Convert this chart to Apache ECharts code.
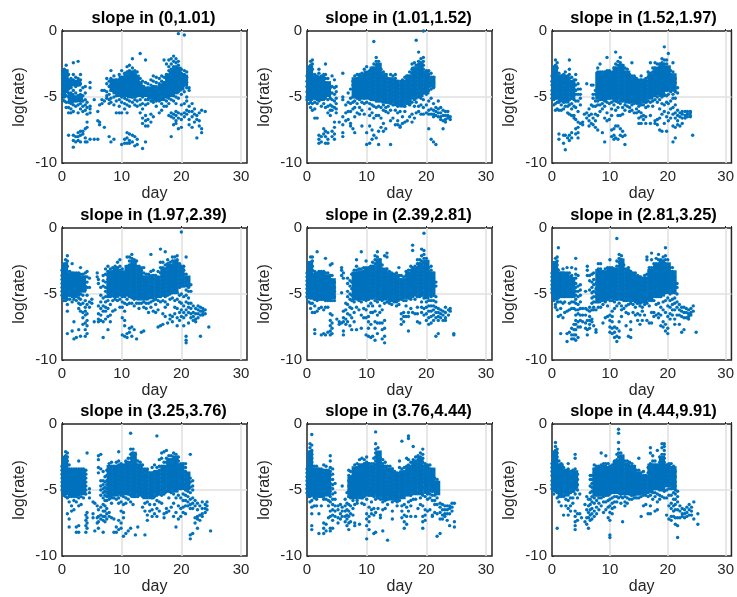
<!DOCTYPE html>
<html>
<head>
<meta charset="utf-8">
<title>slope panels</title>
<script src="https://cdn.jsdelivr.net/npm/echarts@6/dist/echarts.min.js"></script>
<style>
  html, body { margin: 0; background: #fff; }
  #chart { width: 737px; height: 597px; }
</style>
</head>
<body>
<div id="chart"></div>
<script>
const titles = ['slope in (0,1.01)', 'slope in (1.01,1.52)', 'slope in (1.52,1.97)',
  'slope in (1.97,2.39)', 'slope in (2.39,2.81)', 'slope in (2.81,3.25)',
  'slope in (3.25,3.76)', 'slope in (3.76,4.44)', 'slope in (4.44,9.91)']
const xTicks = [0, 10, 20, 30]

const panel1 = [
  [0.1,[-3,-3.3,-3.6,-4,-4.4,-4.8,-5.2]],[0.4,[-2.9,-3.2,-3.5,-3.9,-4.2,-4.6,-5,-5.3]],[0.7,[-2.6,-3,-3.4,-3.8,-4.2,-4.5,-4.9,-5.4,-5.8]],
  [1.1,[-3.3,-3.7,-4,-4.4,-4.7,-5,-5.4,-5.8,-6.2,-7.9]],[1.5,[-3.6,-3.9,-4.3,-4.7,-5.1,-5.5,-5.9,-6.2]],[1.9,[-2.4,-3.3,-3.7,-4,-4.5,-4.9,-5.2,-5.6,-6.1,-7.9,-8.3,-8.8]],
  [2.3,[-3.5,-3.9,-4.2,-4.7,-5,-5.3,-5.7,-8,-8.4]],[2.7,[-2.3,-3.6,-3.8,-4.1,-4.9,-5.2,-5.6,-6.2,-7.7,-8,-8.3]],[3.1,[-3.3,-3.7,-4,-4.5,-4.8,-5.2,-5.5,-5.9,-7.6,-7.9,-8.4]],
  [3.5,[-4.3,-4.9,-5.3,-5.7,-6.1,-7.6,-7.8]],[3.9,[-4.2,-4.7,-5.2,-5.6,-6,-7.4,-8.1,-8.4]],[4.2,[-5.4,-5.8,-6.3,-6.9,-7.3,-8.4]],[4.7,[-3.9,-4.3,-5.7,-5.9,-6.2,-8.2]],
  [5.4,[-5.2,-8.2]],[6,[-6.1,-6.8,-8.2]],[6.3,[-5.6,-6.9,-7.1]],[6.7,[-4.5,-5.2,-5.5]],[7.1,[-4.5,-5.3,-7.3]],
  [7.5,[-3.6,-4,-4.6,-4.9,-5.1]],[7.9,[-3.8,-4.2,-4.8,-5.2,-5.5,-8]],[8.2,[-3,-3.6,-4.1,-4.5,-5.1,-5.4,-8.4]],[8.7,[-3.4,-3.8,-4.2,-4.6,-5,-5.6,-8.2]],[9.1,[-3.7,-4,-4.4,-4.9,-5.3,-6.2]],
  [9.6,[-3.3,-3.7,-4.1,-4.5,-4.8,-5.2,-5.7,-6.2]],[10,[-3,-3.5,-3.9,-4.3,-4.6,-5,-5.4,-6.2,-8.6]],[10.5,[-3.2,-3.6,-4,-4.3,-4.7,-5.1,-5.5,-5.9,-8.2,-8.5]],
  [10.9,[-2.7,-3.1,-3.4,-3.8,-4.1,-4.4,-4.8,-5.2,-5.6,-6.2,-7.7,-8.1,-8.5]],[11.3,[-2.6,-3,-3.3,-3.6,-3.9,-4.2,-4.6,-4.9,-5.3,-5.7,-7.8,-8.3,-8.5]],[11.8,[-2.1,-2.8,-3.1,-3.4,-3.7,-4,-4.3,-4.6,-5,-5.4,-7.9,-8.4]],
  [12.2,[-3,-3.3,-3.6,-3.9,-4.2,-4.5,-4.8,-5.2,-5.6,-8,-8.7]],[12.6,[-3.1,-3.5,-3.8,-4.1,-4.5,-4.9,-5.3,-5.7,-8.2,-8.6]],[13.1,[-1.7,-3.6,-4,-4.4,-4.8,-5.2,-5.6,-6.2]],
  [13.5,[-3.8,-4.2,-4.6,-5,-5.5,-5.9,-6.6,-7,-8.9]],[14,[-2.2,-3.9,-4.4,-4.8,-5.2,-5.6,-6.4,-6.8,-7.2,-8.4]],[14.4,[-4,-4.4,-4.8,-5.2,-5.5,-6.7,-7.2]],[14.9,[-3.7,-4.1,-4.5,-4.9,-5.3,-6.3,-6.9]],
  [15.3,[-3.4,-3.8,-4.2,-4.6,-5,-5.4,-6.5]],[15.8,[-3.5,-3.9,-4.4,-4.7,-5,-5.3,-5.7]],[16.3,[-3.6,-4,-4.3,-4.6,-5,-5.3,-6.2]],[16.7,[-3.4,-3.8,-4.1,-4.5,-4.8,-5.2,-5.5,-6]],
  [17.1,[-2.2,-3.5,-3.9,-4.2,-4.6,-4.9,-5.2,-5.7]],[17.5,[-2.5,-3.3,-3.6,-4,-4.3,-4.7,-5,-5.3,-5.7]],[17.9,[-2.2,-2.7,-3,-3.4,-3.7,-4.1,-4.4,-4.8,-5.1,-5.5,-6.4]],
  [18.3,[-2.1,-2.5,-2.9,-3.2,-3.5,-3.8,-4.1,-4.5,-4.8,-5.2,-6.2,-6.5,-8]],[18.7,[-1.9,-2.3,-2.7,-3,-3.3,-3.6,-3.9,-4.2,-4.5,-4.9,-5.3,-6.3,-6.6,-7.1]],
  [19.1,[-2.1,-2.4,-2.7,-3,-3.3,-3.6,-3.9,-4.2,-4.6,-5,-5.5,-6.1,-6.4,-6.8,-7]],[19.5,[-0.2,-2.3,-2.6,-2.9,-3.2,-3.5,-3.8,-4.2,-4.6,-5.1,-6.2,-6.6,-7.4]],[20,[-2.9,-3.2,-3.6,-4,-4.4,-4.8,-5.6,-6.3,-6.7,-7.3]],
  [20.5,[-0.3,-3,-3.3,-3.7,-4.1,-4.6,-5.5,-6.2,-6.5]],[20.9,[-3.1,-3.5,-3.9,-4.3,-5,-5.3,-6,-6.3]],[21.3,[-4.3,-4.5,-5.7,-6.1,-6.7,-7.1]],[21.8,[-5.5,-6.1,-6.5,-7.3]],[22.2,[-5.9,-6.3,-6.9]],[22.6,[-6.4,-6.7,-8.1]],[23,[-6.2,-6.8,-7.2]],[23.4,[-6,-7.4,-7.7]],[24,[-6.1]]
]
const panel2 = [
  [0,[-3.4,-3.8,-4.2,-4.6,-5,-5.2]],[0.3,[-2.8,-3.2,-3.5,-3.8,-4.1,-4.4,-4.8,-5.1,-5.5]],[0.6,[-2.3,-2.6,-2.9,-3.2,-3.5,-3.8,-4.1,-4.4,-4.7,-5,-5.4,-5.8]],[0.9,[-2.2,-2.5,-2.9,-3.3,-3.6,-3.9,-4.2,-4.5,-4.8,-5.1,-5.5,-6]],
  [1.3,[-3.3,-3.6,-3.9,-4.2,-4.5,-4.8,-5.1,-5.4,-5.9,-6.6]],[1.7,[-3.4,-3.7,-4,-4.3,-4.6,-4.9,-5.2,-5.5,-6.6]],[2,[-2.9,-3.2,-3.5,-3.8,-4.1,-4.4,-4.7,-5,-5.3,-7.9,-8.2,-8.5]],[2.4,[-3.4,-3.7,-4,-4.3,-4.6,-4.9,-5.2,-5.7,-8,-8.4]],
  [2.8,[-3.3,-3.6,-3.9,-4.2,-4.5,-4.8,-5.1,-5.5,-7.4,-7.8]],[3.1,[-2.5,-3.3,-3.6,-3.9,-4.2,-4.5,-4.8,-5.1,-5.8,-7.6,-8,-8.5]],[3.5,[-3.6,-4,-4.4,-4.8,-5.2,-5.7,-6.2,-7.7,-8.2,-8.5]],[3.9,[-4.3,-4.7,-5.1,-5.6,-6,-6.4]],
  [4.2,[-3.4,-4.2,-4.7,-5.2,-5.7,-6,-7.6,-8]],[4.6,[-3.7,-4.3,-4.8,-5.3,-5.8,-6.9,-7.3,-7.8,-8.2]],[4.9,[-4.2,-4.6,-5.1,-5.5,-5.9,-6.2]],[5.4,[-6.9]],[6,[-3.2,-5.2,-5,-6.5,-7.1,-7.7,-8]],[6.5,[-5.6,-6.2,-6.8]],
  [6.9,[-4.7,-5.4,-6.1,-6.7]],[7.3,[-4.4,-5.1,-5.5,-6.1,-7,-7.2]],[7.7,[-3.8,-4.1,-5,-5.4,-5.9,-7.4]],[8,[-3.4,-3.7,-4,-4.3,-4.7,-5,-5.3,-5.8,-6.5,-7.7]],[8.4,[-3.3,-3.6,-3.9,-4.2,-4.5,-4.8,-5.1,-5.5,-6.2]],
  [8.8,[-3.3,-3.6,-3.9,-4.2,-4.5,-4.8,-5.2,-5.8,-6.3]],[9.2,[-3.2,-3.5,-3.8,-4.1,-4.4,-4.7,-5,-5.4,-6,-7.2]],[9.6,[-2.9,-3.3,-3.6,-3.9,-4.2,-4.5,-4.8,-5.1,-5.5,-6.3]],[10,[-2.7,-3.2,-3.5,-3.8,-4.1,-4.4,-4.7,-5,-5.4,-7.7,-8.6]],
  [10.5,[-3,-3.3,-3.6,-3.9,-4.2,-4.5,-4.8,-5.1,-5.5,-5.9,-6.4,-7.2,-8.5]],[10.9,[-2.8,-3.1,-3.4,-3.7,-4,-4.3,-4.6,-4.9,-5.2,-5.6,-6.2,-7.5,-8.2]],[11.2,[-0.8,-2.5,-2.8,-3.1,-3.4,-3.7,-4,-4.3,-4.6,-4.9,-5.2,-5.7,-6.6,-7.9]],
  [11.6,[-2,-2.3,-2.6,-2.9,-3.2,-3.5,-3.8,-4.1,-4.4,-4.7,-5,-5.3,-5.8,-6.4,-8.1]],[12,[-2.3,-2.6,-2.9,-3.2,-3.5,-3.8,-4.1,-4.4,-4.7,-5,-5.3,-5.7,-6.4,-7.6,-8.6]],[12.4,[-2.9,-3.2,-3.5,-3.8,-4.1,-4.4,-4.7,-5,-5.3,-5.8,-6.6,-7.3]],
  [12.8,[-3.1,-3.4,-3.7,-4,-4.3,-4.6,-4.9,-5.2,-5.6,-6,-7,-7.6]],[13.2,[-3.3,-3.6,-3.9,-4.2,-4.5,-4.8,-5.1,-5.4,-5.8,-6.1,-7.4]],[13.6,[-3.6,-3.9,-4.2,-4.5,-4.8,-5.1,-5.4,-5.7,-6.2]],[14,[-3.3,-3.7,-4,-4.3,-4.6,-4.9,-5.2,-5.5,-6,-6.8,-8.6]],
  [14.4,[-3.4,-3.7,-4,-4.3,-4.6,-4.9,-5.2,-5.6,-6.6]],[14.8,[-3.3,-3.6,-3.9,-4.2,-4.5,-4.8,-5.1,-5.5,-6,-7.1]],[15.2,[-3.8,-4.1,-4.4,-4.7,-5,-5.3,-5.7,-6.2,-6.8,-7.1]],[15.6,[-4.1,-4.4,-4.7,-5,-5.3,-5.6,-6.1,-7.2,-7.3]],
  [16,[-3.7,-4,-4.3,-4.6,-4.9,-5.2,-5.6,-6.5,-7]],[16.4,[-3.5,-3.8,-4.1,-4.4,-4.7,-5,-5.3,-5.7,-6.1,-6.9]],[16.8,[-3.4,-3.7,-4,-4.3,-4.6,-4.9,-5.2,-5.5,-6.8]],[17.2,[-3.1,-3.4,-3.7,-4,-4.3,-4.6,-4.9,-5.2,-5.6,-6.5]],
  [17.6,[-2.5,-2.9,-3.2,-3.5,-3.8,-4.1,-4.4,-4.7,-5,-5.4,-6.3,-6.9]],[18,[-2.4,-2.8,-3.1,-3.4,-3.7,-4,-4.3,-4.6,-4.9,-5.2,-5.7,-6.6]],[18.3,[-0.7,-2.6,-2.9,-3.2,-3.5,-3.8,-4.1,-4.4,-4.7,-5,-5.4,-6.2]],[18.7,[-1.6,-2.3,-2.6,-2.9,-3.2,-3.5,-3.8,-4.1,-4.4,-4.7,-5,-5.7,-6.1]],
  [19.1,[-2.1,-2.4,-2.7,-3,-3.3,-3.6,-3.9,-4.2,-4.5,-4.8,-5.1,-5.6,-6.3]],[19.5,[0,-2,-2.3,-2.6,-2.9,-3.2,-3.5,-3.8,-4.1,-4.4,-4.7,-5.2,-5.8,-6.3]],[20,[-3,-3.3,-3.6,-3.9,-4.2,-4.5,-4.8,-5.6,-6.2]],[20.4,[-3,-3.3,-3.6,-3.9,-4.2,-4.5,-5.3,-6,-6.3,-7.4]],
  [20.8,[-3.2,-3.5,-3.8,-4.1,-4.4,-5.1,-5.9,-6.3,-8.2]],[21.2,[-3.5,-3.9,-4.3,-5.5,-6,-6.3,-6.5,-8.4]],[21.6,[-5.8,-6.1,-6.4,-8.6]],[22,[-5.3,-5.9,-6.2,-6.5]],[22.4,[-5.8,-6.2,-6.5,-6.7]],[22.8,[-6,-6.4,-6.8,-7.4]],[23.2,[-6.1,-6.4,-6.7,-6.9]],[23.6,[-6.1,-6.4,-6.6]],[24,[-6.5,-6.7]]
]
const panel3 = [
  [0,[-3.4,-3.8,-4.1,-4.5,-4.8,-5.1]],[0.3,[-3,-3.4,-3.7,-4,-4.3,-4.6,-4.9,-5.2,-5.6]],[0.6,[-2.2,-2.6,-3,-3.3,-3.6,-3.9,-4.2,-4.5,-4.8,-5.1,-5.5,-6]],[0.9,[-2.4,-2.8,-3.2,-3.5,-3.8,-4.1,-4.4,-4.7,-5,-5.4,-5.9]],
  [1.2,[-3.2,-3.5,-3.8,-4.1,-4.4,-4.7,-5,-5.4,-6,-7.8,-8.2]],[1.6,[-3.4,-3.7,-4,-4.3,-4.6,-4.9,-5.2,-5.6,-6]],[2,[-3.3,-3.6,-3.9,-4.2,-4.5,-4.8,-5.1,-5.4,-5.9,-7.9,-8.5]],[2.3,[-3.1,-3.4,-3.7,-4,-4.3,-4.6,-4.9,-5.2,-5.7,-7.9,-9]],
  [2.7,[-3.4,-3.7,-4,-4.3,-4.6,-4.9,-5.3,-5.7,-6.2,-8.1]],[3,[-2.2,-2.9,-3.3,-3.6,-3.9,-4.2,-4.5,-4.8,-5.2,-5.6,-6.3,-7.9,-8.3]],[3.4,[-3.5,-3.9,-4.3,-4.7,-5.1,-5.5,-5.9,-6.4,-7.7,-8.1]],[3.8,[-3.7,-4,-4.4,-4.8,-5.2,-5.7,-6.4,-6.6]],
  [4.1,[-3.3,-3.7,-4.1,-4.5,-4.8,-5.3,-5.8,-6.7,-7.4,-7.8]],[4.5,[-4,-4.4,-4.8,-5.3,-6.1,-6.9,-7.3,-7.7,-8.1]],[4.9,[-4.4,-4.8,-5.1,-5.6,-7]],[5.3,[-6.9,-7.1]],[5.6,[-6.3]],[6,[-4,-6.2,-6.6]],[6.4,[-5.9,-6.4,-6.8,-7.2]],[6.8,[-4.1,-5.6,-6.3,-7]],
  [7.1,[-4.1,-4.8,-5.1,-5.7,-6.6,-7.1]],[7.5,[-4.5,-4.8,-5.3,-5.7,-6.3,-6.8,-7.3]],[7.9,[-2.8,-3.1,-3.5,-3.9,-4.3,-4.6,-5,-5.3,-5.6,-6.4,-7.5]],[8.3,[-2.5,-3.1,-3.4,-3.7,-4,-4.3,-4.6,-4.9,-5.2,-5.6,-6.1]],[8.7,[-3.1,-3.4,-3.7,-4,-4.3,-4.6,-4.9,-5.2,-5.5,-5.9,-7.7]],
  [9.1,[-3.1,-3.4,-3.7,-4,-4.3,-4.6,-4.9,-5.3,-5.7,-6.6,-8.4]],[9.5,[-2,-3,-3.3,-3.6,-3.9,-4.2,-4.5,-4.8,-5.1,-5.4,-6.2,-6.8]],[9.9,[-3,-3.3,-3.6,-3.9,-4.2,-4.5,-4.8,-5.1,-5.5,-6.7]],[10.3,[-3.2,-3.5,-3.8,-4.1,-4.4,-4.7,-5,-5.4,-5.9,-6.4,-7.5,-8]],
  [10.7,[-2.8,-3.1,-3.4,-3.7,-4,-4.3,-4.6,-4.9,-5.2,-5.6,-7.4,-7.9,-8.2]],[11,[-1.6,-2.5,-2.8,-3.1,-3.4,-3.7,-4,-4.3,-4.6,-4.9,-5.3,-6,-7.2,-8.1]],[11.4,[-2.3,-2.6,-2.9,-3.2,-3.5,-3.8,-4.1,-4.4,-4.7,-5,-5.4,-5.8,-6.4,-7.2,-8.2]],
  [11.8,[-2,-2.4,-2.7,-3,-3.3,-3.6,-3.9,-4.2,-4.5,-4.8,-5.1,-5.5,-6.4,-7.4,-7.9]],[12.2,[-2.6,-2.9,-3.2,-3.5,-3.8,-4.1,-4.4,-4.7,-5,-5.3,-5.8,-6.3,-7.6,-8]],[12.6,[-2.8,-3.1,-3.4,-3.7,-4,-4.3,-4.6,-4.9,-5.2,-5.6,-6,-7.9,-8.6]],
  [13,[-2.9,-3.2,-3.5,-3.8,-4.1,-4.4,-4.7,-5,-5.3,-5.7]],[13.4,[-3.3,-3.6,-3.9,-4.2,-4.5,-4.8,-5.1,-5.4,-5.8,-6.1]],[13.8,[-2.4,-3.4,-3.7,-4,-4.3,-4.6,-4.9,-5.2,-5.6,-6]],[14.2,[-3.4,-3.7,-4,-4.3,-4.6,-4.9,-5.2,-5.5,-6.2]],
  [14.6,[-3.6,-3.9,-4.2,-4.5,-4.8,-5.1,-5.4,-5.9,-6.2]],[15,[-3.8,-4.1,-4.4,-4.7,-5,-5.3,-5.7,-6.1,-6.6,-7]],[15.4,[-3.4,-3.7,-4,-4.3,-4.6,-4.9,-5.2,-5.6,-6.2,-6.5,-7]],[15.8,[-3.7,-4,-4.3,-4.6,-4.9,-5.2,-5.6,-6.4,-6.7]],
  [16.2,[-3.6,-3.9,-4.2,-4.5,-4.8,-5.1,-5.4,-5.8,-6.5,-7]],[16.6,[-3.1,-3.5,-3.8,-4.1,-4.4,-4.7,-5,-5.3,-5.7]],[17,[-2.4,-3.2,-3.5,-3.8,-4.1,-4.4,-4.7,-5,-5.4,-6.4,-7]],[17.4,[-2.8,-3.1,-3.4,-3.7,-4,-4.3,-4.6,-4.9,-5.3,-5.7]],
  [17.8,[-2.4,-2.8,-3.1,-3.4,-3.7,-4,-4.3,-4.6,-4.9,-5.2,-6.8,-7]],[18.2,[-2.5,-2.9,-3.2,-3.5,-3.8,-4.1,-4.4,-4.7,-5,-5.4,-6.7,-7.1]],[18.6,[-2.5,-2.7,-3,-3.3,-3.6,-3.9,-4.2,-4.5,-4.8,-5.2,-5.9,-6.6,-7.5]],[19,[-2.1,-2.4,-2.8,-3.1,-3.4,-3.7,-4,-4.3,-4.6,-5,-5.5,-6.3,-7.6]],
  [19.4,[-1.2,-2.2,-2.5,-2.8,-3.1,-3.4,-3.7,-4,-4.4,-4.8,-5.6,-6.1,-7]],[19.8,[-2.2,-2.5,-2.9,-3.2,-3.5,-3.8,-4.1,-4.5,-4.9,-5.4,-6.5,-7.6]],[20.1,[-1.7,-3.2,-3.5,-3.8,-4.1,-4.4,-4.8,-5.5,-6.2,-6.8]],[20.5,[-3,-3.3,-3.6,-3.9,-4.2,-4.6,-5.3,-5.9,-6.6]],
  [20.9,[-2.4,-3.1,-3.4,-3.7,-4,-4.4,-4.8,-5.1,-5.8,-6.3,-7.2,-8.4]],[21.3,[-3.6,-3.9,-4.3,-4.6,-5.1,-5.6,-6.2,-6.6,-7.3,-8.1]],[21.7,[-4.3,-4.7,-6,-6.4,-6.8,-7.1]],[22.1,[-6.2,-6.5,-7.2]],[22.5,[-6.1,-6.3,-6.6,-7]],[23,[-6.1,-6.4,-6.6]],[23.4,[-6.1,-6.3,-6.5]],[23.9,[-6.1,-6.2,-6.4,-6.5]],[24.3,[-7.9]]
]
const panel4 = [
  [0,[-3.2,-3.6,-3.9,-4.2,-4.5,-4.8,-5.1]],[0.3,[-2.8,-3.1,-3.4,-3.7,-4,-4.3,-4.6,-4.9,-5.2,-5.5]],[0.6,[-2.4,-2.7,-3,-3.3,-3.6,-3.9,-4.2,-4.5,-4.8,-5.1,-5.5]],[0.9,[-2.1,-2.5,-2.9,-3.3,-3.6,-3.9,-4.2,-4.5,-4.8,-5.1,-5.4,-5.8,-6.3,-8]],
  [1.3,[-3.3,-3.6,-3.9,-4.2,-4.5,-4.8,-5.1,-5.4]],[1.7,[-2.7,-3.4,-3.7,-4,-4.3,-4.6,-4.9,-5.2,-5.6,-7.8]],[2,[-3.4,-3.7,-4,-4.3,-4.6,-4.9,-5.2,-5.4,-7.1,-8.4]],[2.4,[-3.4,-3.7,-4,-4.3,-4.6,-4.9,-5.2,-5.5,-8.3]],
  [2.8,[-3.4,-3.7,-4,-4.3,-4.6,-4.9,-5.3,-5.7,-6.1,-7.7]],[3.1,[-3,-3.5,-3.8,-4.1,-4.4,-4.7,-5,-5.4,-5.8,-6.3,-8.2]],[3.5,[-3.5,-3.9,-4.3,-4.7,-5.1,-5.7,-6.4,-6.8,-7.3]],[3.9,[-3.4,-3.7,-4.1,-4.4,-4.7,-5.5,-6,-6.3,-6.6,-7.2,-7.7,-8.2]],[4.2,[-3.3,-3.7,-4.1,-4.5,-5.1,-5.8,-6.5,-7,-7.4,-8]],
  [4.6,[-3.8,-4.5,-5.6,-6]],[5,[-5.4,-5.7]],[5.4,[-7.1]],[5.9,[-3.4,-3.7]],[6.1,[-3.9,-4.2,-5.9,-6.5,-6.9,-7.1]],[6.5,[-4.5,-5.1,-5.6,-6.1,-6.6,-7]],[6.9,[-3.6,-4,-4.4,-5.3,-5.9,-6.3,-7.1,-8.3]],
  [7.3,[-3.1,-3.5,-4.1,-4.5,-4.8,-5.2,-5.6,-6,-6.3,-6.9]],[7.7,[-2.9,-3.3,-3.6,-3.9,-4.3,-4.6,-4.9,-5.2,-5.5,-6.1,-6.7,-7.7]],[8.1,[-3.1,-3.4,-3.7,-4,-4.3,-4.6,-4.9,-5.2,-5.8,-6.6,-7.1]],[8.5,[-3,-3.3,-3.6,-3.9,-4.2,-4.5,-4.8,-5.1,-5.5,-6.3]],
  [8.9,[-2.9,-3.2,-3.5,-3.8,-4.1,-4.4,-4.7,-5,-5.4,-6.2]],[9.3,[-2.6,-3,-3.3,-3.6,-3.9,-4.2,-4.5,-4.8,-5.1,-5.5]],[9.7,[-2.4,-2.9,-3.2,-3.5,-3.8,-4.1,-4.4,-4.7,-5,-5.4,-6]],[10.1,[-3.1,-3.4,-3.7,-4,-4.3,-4.6,-4.9,-5.2,-5.6,-6,-6.8,-8.1]],
  [10.5,[-3.4,-3.7,-4,-4.3,-4.6,-4.9,-5.2,-5.7,-6.3,-7,-7.4,-8.2]],[10.9,[-2.2,-2.9,-3.2,-3.5,-3.8,-4.1,-4.4,-4.7,-5,-5.4,-5.8,-8,-8.3]],[11.3,[-2.2,-2.5,-2.8,-3.1,-3.4,-3.7,-4,-4.3,-4.6,-4.9,-5.2,-5.7,-7.6,-7.9]],[11.7,[-2,-2.3,-2.7,-3,-3.3,-3.6,-3.9,-4.2,-4.5,-4.8,-5.2,-5.7,-7.5,-8.2]],
  [12.1,[-2.4,-2.7,-3,-3.3,-3.6,-3.9,-4.2,-4.5,-4.8,-5.1,-5.4,-5.9,-7.7]],[12.5,[-2.5,-2.9,-3.2,-3.5,-3.8,-4.1,-4.4,-4.7,-5,-5.3,-5.7,-8.4]],[12.9,[-2.9,-3.2,-3.5,-3.8,-4.1,-4.4,-4.7,-5,-5.3,-5.7,-6.1]],[13.3,[-3.2,-3.5,-3.8,-4.1,-4.4,-4.7,-5,-5.3,-5.7,-7.9]],
  [13.7,[-3,-3.4,-3.7,-4,-4.3,-4.6,-4.9,-5.2,-5.6,-6,-7.8]],[14.1,[-3.5,-3.8,-4.1,-4.4,-4.7,-5,-5.3,-5.7,-6.1]],[14.5,[-3.5,-3.8,-4.1,-4.4,-4.7,-5,-5.3,-5.7,-6.4]],[14.9,[-2,-3.3,-3.7,-4,-4.3,-4.6,-4.9,-5.2,-5.6,-6]],[15.3,[-3.2,-3.6,-3.9,-4.2,-4.5,-4.8,-5.1,-5.5,-6.3]],
  [15.7,[-3.6,-3.9,-4.2,-4.5,-4.8,-5.1,-5.4,-5.8,-6.4]],[16.1,[-3.3,-3.7,-4,-4.3,-4.6,-4.9,-5.2,-5.5,-6.2,-7.5]],[16.5,[-1.6,-2.6,-3,-3.4,-3.7,-4,-4.3,-4.6,-4.9,-5.2,-5.6,-7.4]],[16.9,[-2.6,-3,-3.3,-3.6,-3.9,-4.2,-4.5,-4.8,-5.1,-5.5,-6.5,-7.3]],
  [17.3,[-1.8,-2.8,-3.1,-3.4,-3.7,-4,-4.3,-4.6,-4.9,-5.2,-5.6,-6,-6.7]],[17.7,[-2.4,-2.7,-3,-3.3,-3.6,-3.9,-4.2,-4.5,-4.8,-5.1,-5.8,-7.2]],[18.1,[-2.6,-2.9,-3.2,-3.5,-3.8,-4.1,-4.4,-4.7,-5,-5.4,-6.6,-6.9]],[18.5,[-2.2,-2.5,-2.8,-3.1,-3.4,-3.7,-4,-4.3,-4.6,-4.9,-5.3,-6.7,-7.1]],
  [18.9,[-2.2,-2.5,-2.8,-3.1,-3.4,-3.7,-4,-4.3,-4.6,-4.9,-5.5,-6,-6.5]],[19.3,[-2.1,-2.4,-2.7,-3,-3.3,-3.6,-3.9,-4.2,-4.5,-4.9,-5.4,-6.1,-6.8,-7.4]],[19.7,[-2.7,-3,-3.3,-3.6,-3.9,-4.2,-4.5,-5.1,-5.6,-6.4,-7]],[20,[-0.3,-2.9,-3.2,-3.5,-3.8,-4.1,-4.4,-5,-5.7,-6.2,-6.7]],
  [20.4,[-2.9,-3.2,-3.5,-3.8,-4.1,-4.4,-5.2,-5.9,-6.4,-6.8,-7.4]],[20.8,[-2.2,-3.5,-3.8,-4.1,-4.7,-5.1,-5.6,-6.2,-6.6,-8.2,-8.5,-8.7]],[21.2,[-4.2,-4.5,-4.8,-5.3,-5.7,-6,-6.4,-7.2]],[21.6,[-4.3,-4.8,-5.7,-6.1,-6.5,-6.8]],[22,[-5.9,-6.4,-6.7,-7]],[22.4,[-6.1,-6.5,-6.9,-7.1]],[22.8,[-5.9,-6.2,-6.5,-6.8]],
  [23.2,[-6,-6.3,-6.6,-8.2]],[23.6,[-6.1,-6.3,-6.5,-6.6]],[24,[-6.2,-6.5]],[24.6,[-7.5]]
]
const panel5 = [
  [0,[-3.4,-3.7,-4,-4.3,-4.6,-4.9,-5.2]],[0.3,[-2.8,-3.1,-3.4,-3.7,-4,-4.3,-4.6,-4.9,-5.2,-5.6]],[0.6,[-2.2,-2.6,-2.9,-3.2,-3.5,-3.8,-4.1,-4.4,-4.7,-5,-5.3,-5.7,-6.1]],[0.9,[-2.2,-2.5,-2.9,-3.2,-3.5,-3.8,-4.1,-4.4,-4.7,-5,-5.3,-5.7,-6.4]],
  [1.3,[-3.3,-3.6,-3.9,-4.2,-4.5,-4.8,-5.1,-5.4,-5.9,-6.4,-7.7,-8]],[1.7,[-1.8,-3.4,-3.7,-4,-4.3,-4.6,-4.9,-5.2,-5.5,-6.3]],[2,[-3.3,-3.6,-3.9,-4.2,-4.5,-4.8,-5.1,-5.4,-6.1]],[2.4,[-3.3,-3.6,-3.9,-4.2,-4.5,-4.8,-5.1,-5.4,-6,-8.1]],
  [2.8,[-3.3,-3.6,-3.9,-4.2,-4.5,-4.8,-5.1,-5.4,-6.2,-8]],[3.1,[-2.3,-3.4,-3.7,-4,-4.3,-4.6,-4.9,-5.2,-5.5,-6,-8.1]],[3.5,[-3.4,-3.7,-4,-4.3,-4.6,-4.9,-5.2,-5.5,-6,-7.9]],[3.9,[-2.8,-3.6,-3.9,-4.2,-4.5,-4.8,-5.1,-5.5,-6.5,-7,-7.4,-7.8,-8.1]],
  [4.2,[-2.7,-3.6,-4,-4.3,-4.6,-4.9,-5.2,-5.5,-6.6,-7.2,-7.6,-8]],[4.6,[-4.1,-4.5,-4.8,-5.2,-5.5]],[5,[-6.9]],[5.4,[-7.1,-7.3]],[5.8,[-3,-3.2,-3.6,-4.9,-7.2]],[6.1,[-3.4,-3.8,-6.3,-6.8,-7.1,-7.8,-8.1]],[6.5,[-5.7,-6.2,-6.9,-7.3]],
  [6.8,[-3.8,-4.2,-4.8,-5.2,-5.8,-6.5,-7.1]],[7.2,[-4,-4.4,-5,-5.4,-6,-6.6,-7.4]],[7.5,[-3.5,-4.1,-4.6,-5.1,-5.5,-6.1,-6.8,-7.7]],[7.9,[-3.2,-3.5,-3.9,-4.2,-4.5,-4.9,-5.2,-5.6,-6.4,-7.1]],[8.3,[-2.4,-2.9,-3.2,-3.5,-3.8,-4.1,-4.4,-4.7,-5,-5.3,-6,-7.7]],
  [8.7,[-3.1,-3.4,-3.7,-4,-4.3,-4.6,-4.9,-5.2,-5.5,-6.2]],[9.1,[-1.8,-3.1,-3.4,-3.7,-4,-4.3,-4.6,-4.9,-5.2,-5.6,-6.6,-7.6]],[9.5,[-3,-3.3,-3.6,-3.9,-4.2,-4.5,-4.8,-5.1,-5.4,-6.1,-6.8]],[9.9,[-2.5,-3,-3.3,-3.6,-3.9,-4.2,-4.5,-4.8,-5.1,-5.5,-6.2,-6.8,-8.1]],
  [10.3,[-3,-3.3,-3.6,-3.9,-4.2,-4.5,-4.8,-5.1,-5.4,-5.9,-6.7,-7.1,-7.6,-8.2]],[10.7,[-2.9,-3.2,-3.5,-3.8,-4.1,-4.4,-4.7,-5,-5.3,-5.7,-6.4,-7.3,-8.3]],[11,[-2.6,-2.9,-3.2,-3.5,-3.8,-4.1,-4.4,-4.7,-5,-5.3,-5.9,-6.4,-8.2]],
  [11.4,[-2.1,-2.4,-2.7,-3,-3.3,-3.6,-3.9,-4.2,-4.5,-4.8,-5.1,-5.5,-6.3,-7.1,-7.6,-8.5]],[11.8,[-1.8,-2.2,-2.5,-2.8,-3.1,-3.4,-3.7,-4,-4.3,-4.6,-4.9,-5.2,-5.6,-6.6,-7.2,-8]],[12.2,[-2.4,-2.7,-3,-3.3,-3.6,-3.9,-4.2,-4.5,-4.8,-5.1,-5.4,-5.9,-6.4,-7.2]],
  [12.6,[-2.8,-3.1,-3.4,-3.7,-4,-4.3,-4.6,-4.9,-5.2,-5.5,-6.2,-7.2,-7.7,-8.4]],[13,[-2.1,-3.2,-3.5,-3.8,-4.1,-4.4,-4.7,-5,-5.3,-5.7,-7,-7.6,-8.2,-8.7]],[13.4,[-1.9,-2.2,-3.1,-3.4,-3.7,-4,-4.3,-4.6,-4.9,-5.2,-5.6]],[13.8,[-3.3,-3.6,-3.9,-4.2,-4.5,-4.8,-5.1,-5.4,-5.7]],
  [14.2,[-3.4,-3.7,-4,-4.3,-4.6,-4.9,-5.2,-5.5,-5.8]],[14.6,[-3.5,-3.8,-4.1,-4.4,-4.7,-5,-5.3,-5.6]],[15,[-3.4,-3.7,-4,-4.3,-4.6,-4.9,-5.2,-5.6,-5.9]],[15.4,[-3,-3.6,-3.9,-4.2,-4.5,-4.8,-5.1,-5.4,-5.8]],[15.8,[-3.6,-3.9,-4.2,-4.5,-4.8,-5.1,-5.4,-6.5,-6.9,-7.3]],
  [16.2,[-3.7,-4,-4.3,-4.6,-4.9,-5.2,-5.5,-6.4,-6.7,-7.1]],[16.6,[-3.3,-3.6,-3.9,-4.2,-4.5,-4.8,-5.1,-5.5,-5.9,-6.7]],[17,[-3.2,-3.5,-3.8,-4.1,-4.4,-4.7,-5,-5.3,-6.4,-6.7,-7.8]],[17.4,[-2.9,-3.2,-3.5,-3.8,-4.1,-4.4,-4.7,-5,-5.4,-6.1]],
  [17.7,[-1.3,-1.7,-3,-3.3,-3.6,-3.9,-4.2,-4.5,-4.8,-5.2,-6.4]],[18.1,[-2.9,-3.2,-3.5,-3.8,-4.1,-4.4,-4.7,-5,-5.4,-6.5]],[18.5,[-2.4,-2.7,-3,-3.3,-3.6,-3.9,-4.2,-4.5,-4.8,-5.2,-6,-6.5,-7.1]],[18.9,[-2.4,-2.7,-3,-3.3,-3.6,-3.9,-4.2,-4.5,-4.8,-5.2,-7.2]],
  [19.2,[-1.6,-2.1,-2.5,-2.9,-3.2,-3.5,-3.8,-4.1,-4.4,-4.7,-5.1,-5.6,-6,-6.4]],[19.6,[-0.4,-1.7,-2,-2.3,-2.6,-3,-3.3,-3.6,-3.9,-4.2,-4.5,-4.9,-5.3,-6.1,-6.6]],[20,[-2.3,-2.7,-3,-3.3,-3.6,-3.9,-4.2,-4.6,-5.2,-5.6,-6,-6.5,-7]],[20.4,[-3,-3.3,-3.6,-3.9,-4.2,-4.6,-5,-5.5,-5.9,-6.3,-6.8,-7.3]],
  [20.8,[-2.9,-3.2,-3.5,-3.8,-4.1,-4.4,-4.8,-5.2,-5.5,-5.9,-6.3,-6.7,-7.2]],[21.2,[-3.4,-3.8,-4.1,-4.4,-4.7,-5.1,-5.5,-5.9,-6.2,-6.6,-7]],[21.6,[-4.1,-4.4,-5.2,-5.6,-6,-6.4,-6.8,-8.2]],[22,[-6.1,-6.4,-6.7,-7,-8]],[22.4,[-6.2,-6.5,-6.8]],[22.8,[-6.3,-6.6,-7]],[23.2,[-6,-6.4,-6.8,-7]],[23.7,[-6.2,-6.6]],[24,[-6.1,-6.3]],[24.6,[-8,-8.1]]
]
const panel6 = [
  [0,[-3.4,-3.7,-4,-4.3,-4.6,-4.9]],[0.3,[-2.8,-3.1,-3.4,-3.7,-4,-4.3,-4.6,-4.9,-5.2,-5.5]],[0.6,[-2.3,-2.6,-2.9,-3.2,-3.5,-3.8,-4.1,-4.4,-4.7,-5,-5.3,-5.8,-6]],[0.9,[-2.2,-2.5,-2.8,-3.1,-3.4,-3.7,-4,-4.3,-4.6,-4.9,-5.2,-5.6,-6.2]],
  [1.1,[-1.5,-3.2,-3.5,-3.8,-4.1,-4.4,-4.7,-5,-5.3,-5.6,-6.7]],[1.5,[-3.4,-3.7,-4,-4.3,-4.6,-4.9,-5.2,-5.6,-6.1,-6.6,-8]],[1.9,[-3.1,-3.4,-3.7,-4,-4.3,-4.6,-4.9,-5.2,-5.7,-6.8]],[2.2,[-3.4,-3.7,-4,-4.3,-4.6,-4.9,-5.2,-5.6,-6.4]],
  [2.6,[-3,-3.4,-3.7,-4,-4.3,-4.6,-4.9,-5.2,-6.3,-8,-8.6]],[3,[-3.4,-3.7,-4,-4.3,-4.6,-4.9,-5.2,-5.7,-6.2,-7.9]],[3.4,[-3,-3.6,-3.9,-4.2,-4.5,-4.8,-5.2,-5.6,-6.1,-7.6,-8.1,-8.4]],[3.8,[-4.6,-5.1,-5.6,-6.1,-7.3,-7.7,-8.1,-8.4]],
  [4.1,[-2.3,-3.1,-3.5,-3.8,-4.2,-4.5,-4.8,-5.1,-5.4,-5.7,-6.2,-6.6,-7,-7.3,-7.7,-8.1,-8.5]],[4.5,[-3.6,-4.4,-4.8,-5.2,-5.8,-6.2,-6.5,-7.1,-7.5,-8.3]],[4.9,[-4.3,-4.7,-5.1,-5.6,-6.1,-6.6,-7,-7.5]],[5.3,[-6.1,-6.6,-7.1]],[5.8,[-4.8,-6.1,-6.6,-7.2,-7.6]],
  [6.1,[-2.9,-3.2,-3.6,-6.2,-7,-7.7,-8.1]],[6.5,[-3.6,-4,-4.7,-6,-6.3,-6.7,-7,-7.3,-7.6]],[6.9,[-3.5,-4.1,-4.5,-4.9,-5.3,-5.7,-6.2,-6.9,-7.1]],[7.2,[-3.4,-3.9,-4.3,-4.8,-5.2,-5.6,-6,-6.2,-7.4]],[7.6,[-4.2,-4.6,-4.9,-5.2,-5.6,-6.2,-7.7,-7.9]],
  [8,[-2.7,-3.1,-3.5,-3.8,-4.1,-4.4,-4.7,-5,-5.3,-5.6,-6]],[8.4,[-2.7,-3.1,-3.4,-3.7,-4,-4.3,-4.6,-4.9,-5.2,-5.5,-6]],[8.8,[-3.3,-3.6,-3.9,-4.2,-4.5,-4.8,-5.1,-5.4,-5.8,-7.2]],[9.2,[-3.1,-3.4,-3.7,-4,-4.3,-4.6,-4.9,-5.2,-5.6,-6.8]],
  [9.6,[-3,-3.3,-3.6,-3.9,-4.2,-4.5,-4.8,-5.1,-5.4,-5.9,-6.7]],[10,[-2.4,-3,-3.3,-3.6,-3.9,-4.2,-4.5,-4.8,-5.1,-5.5,-6.6,-7,-7.5,-7.9]],[10.4,[-3,-3.3,-3.6,-3.9,-4.2,-4.5,-4.8,-5.1,-5.5,-6.3,-6.7,-7.1,-7.6,-8]],
  [10.8,[-3.1,-3.4,-3.7,-4,-4.3,-4.6,-4.9,-5.2,-5.6,-6.1,-7.5,-7.9,-8.3]],[11.2,[-0.8,-2.5,-2.9,-3.2,-3.5,-3.8,-4.1,-4.4,-4.7,-5,-5.4,-5.9,-7.6,-8.2,-8.6]],[11.6,[-2,-2.3,-2.6,-2.9,-3.2,-3.5,-3.8,-4.1,-4.4,-4.7,-5,-5.3,-5.7,-7.1,-7.8,-8.3]],
  [12,[-2.1,-2.4,-2.7,-3,-3.3,-3.6,-3.9,-4.2,-4.5,-4.8,-5.1,-5.4,-5.9,-6.2,-6.7]],[12.4,[-2.8,-3.1,-3.4,-3.7,-4,-4.3,-4.6,-4.9,-5.2,-5.5,-6.1]],[12.8,[-3.1,-3.4,-3.7,-4,-4.3,-4.6,-4.9,-5.2,-5.5,-5.9,-6.4,-7.4]],[13.2,[-3,-3.3,-3.6,-3.9,-4.2,-4.5,-4.8,-5.1,-5.4,-5.8,-6.5,-8.2]],
  [13.6,[-3.3,-3.6,-3.9,-4.2,-4.5,-4.8,-5.1,-5.4,-5.7,-7.1,-7.7,-8.3]],[14,[-3.4,-3.7,-4,-4.3,-4.6,-4.9,-5.2,-5.5,-5.8,-6.4]],[14.4,[-3.4,-3.7,-4,-4.3,-4.6,-4.9,-5.2,-5.6,-6,-6.6]],[14.8,[-3.6,-3.9,-4.2,-4.5,-4.8,-5.1,-5.4,-5.7,-6.5,-7]],
  [15.2,[-3.7,-4,-4.3,-4.6,-4.9,-5.2,-5.5,-5.9,-6.6,-7.3]],[15.6,[-3.8,-4.1,-4.4,-4.7,-5,-5.3,-5.6,-6,-6.3,-7]],[16,[-3.6,-3.9,-4.2,-4.5,-4.8,-5.1,-5.4,-5.8,-6.6]],[16.4,[-2.2,-2.4,-3.5,-3.8,-4.1,-4.4,-4.7,-5,-5.3,-5.7,-7]],
  [16.8,[-3,-3.3,-3.6,-3.9,-4.2,-4.5,-4.8,-5.1,-5.4,-5.9,-7.2]],[17.2,[-1.9,-2.4,-3,-3.3,-3.6,-3.9,-4.2,-4.5,-4.8,-5.1,-5.5,-6.4,-7.2]],[17.6,[-2.7,-3,-3.3,-3.6,-3.9,-4.2,-4.5,-4.8,-5.1,-5.5,-6.4,-6.7]],[18,[-2.3,-2.7,-3,-3.3,-3.6,-3.9,-4.2,-4.5,-4.8,-5.2,-5.8,-6.6]],
  [18.4,[-2,-2.4,-2.7,-3,-3.3,-3.6,-3.9,-4.2,-4.5,-4.8,-5.2,-5.7,-6.5,-6.8]],[18.8,[-2.4,-2.7,-3,-3.3,-3.6,-3.9,-4.2,-4.5,-4.8,-5.2,-6,-6.6,-7.4]],[19.2,[-2.2,-2.5,-2.8,-3.1,-3.4,-3.7,-4,-4.3,-4.6,-5,-5.6,-6.2,-7.1,-7.5]],[19.6,[-1.5,-2.1,-2.4,-2.7,-3,-3.3,-3.6,-3.9,-4.2,-4.5,-4.9,-5.5,-6.4,-7.3,-7.8]],
  [20,[-2.4,-2.8,-3.2,-3.5,-3.8,-4.1,-4.4,-4.8,-5.3,-5.9,-6.7,-7.6,-8]],[20.4,[-3,-3.3,-3.6,-3.9,-4.2,-4.5,-5,-5.5,-6,-6.5,-6.9]],[20.8,[-3,-3.3,-3.6,-3.9,-4.2,-4.5,-4.9,-5.4,-5.8,-6.2,-6.6]],[21.2,[-3.7,-4,-4.3,-4.6,-4.9,-5.3,-5.7,-6.2,-6.9,-7.3]],
  [21.6,[-4.2,-4.5,-5,-5.6,-6,-6.6]],[22,[-5.8,-6.2,-6.6,-7.3]],[22.4,[-6,-6.3,-6.7,-7.9]],[22.8,[-6,-6.4,-6.8,-7.7]],[23.2,[-6.1,-6.4,-6.8]],[23.6,[-6.2,-6.5,-6.7,-6.9]],[24,[-6.1,-6.4,-6.6]],[24.4,[-5.9,-6.3]],[24.9,[-7.9]]
]
const panel7 = [
  [0,[-3.2,-3.5,-3.8,-4.1,-4.4,-4.7,-5]],[0.3,[-2.7,-3,-3.3,-3.6,-3.9,-4.2,-4.5,-4.8,-5.1,-5.4]],[0.6,[-2.1,-2.4,-2.7,-3,-3.3,-3.6,-3.9,-4.2,-4.5,-4.8,-5.1,-5.5]],[0.9,[-2.2,-2.5,-2.8,-3.1,-3.4,-3.7,-4,-4.3,-4.6,-4.9,-5.2,-5.6,-6.8]],
  [1.2,[-3.1,-3.4,-3.7,-4,-4.3,-4.6,-4.9,-5.2,-5.5,-5.9,-7.2,-7.8]],[1.6,[-3.4,-3.7,-4,-4.3,-4.6,-4.9,-5.2,-5.5,-6.2,-6.6]],[2,[-3.4,-3.7,-4,-4.3,-4.6,-4.9,-5.2,-5.5,-5.8,-6.5]],[2.4,[-3.4,-3.7,-4,-4.3,-4.6,-4.9,-5.2,-5.5,-5.9,-7.8,-8.2]],
  [2.8,[-2.8,-3.4,-3.7,-4,-4.3,-4.6,-4.9,-5.2,-5.6,-6.2,-7.7,-8.2]],[3.2,[-3.4,-3.7,-4,-4.3,-4.6,-4.9,-5.2,-5.5,-6.1]],[3.6,[-3.4,-3.7,-4,-4.3,-4.6,-4.9,-5.2,-5.6]],[4,[-3.5,-3.8,-4.1,-4.4,-4.7,-5,-5.3,-6.9,-7.3,-7.7,-8.2]],[4.2,[-2.2,-6.7,-7.1,-7.5,-7.9]],[4.6,[-4.9,-5.2,-5.6]],[5.2,[-5.9,-6.8,-7.1]],
  [5.5,[-8.1,-6]],[5.9,[-6.2,-7.1,-7.5]],[6.1,[-2.4,-2.7,-3.3,-3.7,-6.5,-7,-7.4,-7.9]],[6.5,[-2.3,-3.4,-4.3,-4.7,-5,-5.4,-6.3,-6.9,-7.2]],[6.9,[-3.6,-4.3,-4.6,-4.9,-5.2,-5.6,-6.1,-6.6,-7,-7.3,-8.2]],
  [7.2,[-4,-4.4,-4.8,-5.1,-5.4,-5.8,-6.2,-6.6,-7,-7.4]],[7.5,[-3.5,-3.9,-4.3,-4.6,-4.9,-5.2,-5.5,-5.8,-6.4,-6.8,-7.2]],[7.9,[-3,-3.3,-3.6,-3.9,-4.2,-4.5,-4.8,-5.1,-5.4,-5.7,-6.7,-7]],[8.3,[-2.9,-3.2,-3.5,-3.8,-4.1,-4.4,-4.7,-5,-5.3,-5.6,-6,-7.1]],
  [8.7,[-3.2,-3.5,-3.8,-4.1,-4.4,-4.7,-5,-5.3,-5.6,-7.2,-8.2]],[9.1,[-2.9,-3.2,-3.5,-3.8,-4.1,-4.4,-4.7,-5,-5.3,-5.7,-7.8,-8.2]],[9.5,[-2.1,-2.8,-3.1,-3.4,-3.7,-4,-4.3,-4.6,-4.9,-5.2,-5.6,-6,-7.3,-8]],[9.9,[-3,-3.3,-3.6,-3.9,-4.2,-4.5,-4.8,-5.1,-5.4,-5.9,-6.6,-7.5,-7.9]],
  [10.3,[-3.1,-3.4,-3.7,-4,-4.3,-4.6,-4.9,-5.2,-5.5,-6.1,-6.7,-7.1,-8.5]],[10.7,[-2.8,-3.1,-3.4,-3.7,-4,-4.3,-4.6,-4.9,-5.2,-5.6,-6,-8.3]],[11.1,[-2.6,-2.9,-3.2,-3.5,-3.8,-4.1,-4.4,-4.7,-5,-5.3,-5.7,-8.1]],[11.5,[-0.7,-1.9,-2.3,-2.6,-2.9,-3.2,-3.5,-3.8,-4.1,-4.4,-4.7,-5,-5.4,-5.9,-7.9]],
  [11.9,[-1.9,-2.2,-2.5,-2.8,-3.1,-3.4,-3.7,-4,-4.3,-4.6,-4.9,-5.2,-5.5,-6.1]],[12.3,[-2.3,-2.7,-3,-3.3,-3.6,-3.9,-4.2,-4.5,-4.8,-5.1,-5.5,-8.4]],[12.7,[-2.8,-3.1,-3.4,-3.7,-4,-4.3,-4.6,-4.9,-5.2,-5.5,-7.8]],[13.1,[-2.9,-3.2,-3.5,-3.8,-4.1,-4.4,-4.7,-5,-5.3]],
  [13.5,[-3.1,-3.4,-3.7,-4,-4.3,-4.6,-4.9,-5.2,-5.5,-6.3]],[13.9,[-3.4,-3.7,-4,-4.3,-4.6,-4.9,-5.2,-5.5,-6,-6.6,-8.4]],[14.3,[-3.4,-3.7,-4,-4.3,-4.6,-4.9,-5.2,-5.5,-5.9,-6.9,-7.3]],[14.7,[-3.7,-4,-4.3,-4.6,-4.9,-5.2,-5.5,-6.1,-6.6]],[15.1,[-3.3,-3.7,-4,-4.3,-4.6,-4.9,-5.2,-5.6,-6.5,-7]],
  [15.5,[-3.1,-3.6,-3.9,-4.2,-4.5,-4.8,-5.1,-5.5,-6.1,-6.8]],[15.9,[-0.9,-3.3,-3.6,-3.9,-4.2,-4.5,-4.8,-5.1,-5.4,-5.8,-6.4,-7]],[16.3,[-2.7,-3.2,-3.5,-3.8,-4.1,-4.4,-4.7,-5,-5.3,-5.9,-6.6]],[16.7,[-2.2,-2.6,-3.2,-3.5,-3.8,-4.1,-4.4,-4.7,-5,-5.4,-6]],
  [17.1,[-2.1,-2.9,-3.2,-3.5,-3.8,-4.1,-4.4,-4.7,-5,-5.3,-6.8,-7.1]],[17.5,[-2,-2.6,-2.9,-3.2,-3.5,-3.8,-4.1,-4.4,-4.7,-5.1,-6.4,-6.7]],[17.9,[-2.4,-2.7,-3,-3.3,-3.6,-3.9,-4.2,-4.5,-4.8,-5.1,-5.6,-6.6]],[18.3,[-2.4,-2.7,-3,-3.3,-3.6,-3.9,-4.2,-4.5,-4.8,-5.2,-6.3]],
  [18.7,[-2.2,-2.5,-2.8,-3.1,-3.4,-3.7,-4,-4.3,-4.6,-4.9,-5.3,-6,-7]],[19.1,[-2.3,-2.6,-2.9,-3.2,-3.5,-3.8,-4.1,-4.4,-4.7,-5,-5.6,-6.7,-7.8]],[19.5,[-2.5,-2.8,-3.1,-3.4,-3.7,-4,-4.3,-4.6,-4.9,-5.4,-6.2,-7.2]],[19.9,[-3,-3.3,-3.6,-3.9,-4.2,-4.5,-4.9,-5.6,-6.4,-7]],
  [20.3,[-3,-3.3,-3.6,-3.9,-4.2,-4.5,-4.8,-5.3,-5.8,-6.3,-6.7]],[20.7,[-3,-3.3,-3.6,-3.9,-4.2,-4.6,-5,-5.4,-5.8,-6.2,-6.8]],[21.1,[-3.9,-4.2,-4.6,-5.1,-5.5,-5.9,-6.2]],[21.5,[-2.3,-4.1,-4.4,-4.8,-5.2,-5.7,-6.1,-6.4,-8.4,-8.7]],[21.9,[-4.3,-4.7,-5,-5.6,-6,-6.4,-8.3]],[22.3,[-5.8,-6.2,-7.1,-7.5]],
  [22.7,[-6,-6.5,-7,-7.2,-7.9]],[23.1,[-6.2,-6.9,-7.3]],[23.5,[-5.9,-6.4,-6.8,-7]],[24,[-6.1,-6.4,-6.7]],[24.3,[-5.9,-6.2,-6.5]],[24.9,[-8.1]]
]
const panel8 = [
  [0,[-3.4,-3.7,-4,-4.3,-4.6,-4.9,-5.2]],[0.3,[-2.8,-3.1,-3.4,-3.7,-4,-4.3,-4.6,-4.9,-5.2,-5.5]],[0.5,[-1.5,-1.8,-2.1,-2.4,-2.7,-3,-3.3,-3.6,-3.9,-4.2,-4.5,-4.8,-5.1,-5.5,-5.9]],[0.8,[-0.8,-1.6,-2,-2.3,-2.6,-2.9,-3.2,-3.5,-3.8,-4.1,-4.4,-4.7,-5,-5.4,-5.8,-6.3,-6.8,-7.7,-8]],
  [1.2,[-3.2,-3.5,-3.8,-4.1,-4.4,-4.7,-5,-5.3,-5.6,-6.2]],[1.6,[-3.2,-3.5,-3.8,-4.1,-4.4,-4.7,-5,-5.3,-5.7,-6.2]],[2,[-3.4,-3.7,-4,-4.3,-4.6,-4.9,-5.2,-5.5,-6.8,-8.3]],[2.4,[-3.4,-3.7,-4,-4.3,-4.6,-4.9,-5.2,-5.5,-6.2]],
  [2.8,[-3.1,-3.5,-3.8,-4.1,-4.4,-4.7,-5,-5.3,-5.7,-7.5,-7.9,-8.3]],[3.2,[-3.2,-3.5,-3.8,-4.1,-4.4,-4.7,-5,-5.3,-5.7,-7.6,-8.1]],[3.6,[-3.5,-3.8,-4.1,-4.4,-4.7,-5,-5.3,-5.8,-6.2,-7.1]],[3.9,[-2.4,-2.8,-3.3,-3.6,-3.9,-4.2,-4.5,-4.8,-5.1,-5.5,-5.9,-6.6,-7,-7.9,-8.1]],
  [4.3,[-3.4,-3.8,-4.2,-4.6,-4.9,-5.3,-5.7,-6.1,-6.5,-6.9,-7.3,-7.9]],[4.7,[-4.5,-5.2,-5.7,-6.2,-6.6,-7]],[5.2,[-6.2,-6.5,-7.1,-7.5]],[5.6,[-6.1,-6.8,-7.2]],[5.9,[-4.7,-6.3,-6.6,-7]],[6.4,[-5.7,-6.2,-6.6,-7,-7.4]],[6.7,[-5.2,-6,-6.5,-6.9,-7.2,-7.7]],
  [7,[-3.5,-3.9,-4.3,-4.7,-5.1,-5.5,-6.1,-6.6,-7,-7.5,-8]],[7.3,[-3.6,-4,-4.4,-4.7,-5,-5.3,-5.6,-6.2,-6.8,-7.4]],[7.7,[-3.9,-4.2,-4.5,-4.8,-5.1,-5.4,-5.8,-6.4,-6.9]],[8,[-3.1,-3.4,-3.7,-4,-4.3,-4.6,-4.9,-5.2,-5.5,-6.1,-7.5,-7.7]],
  [8.4,[-3,-3.3,-3.6,-3.9,-4.2,-4.5,-4.8,-5.1,-5.4,-5.8,-6]],[8.8,[-2.7,-3.1,-3.4,-3.7,-4,-4.3,-4.6,-4.9,-5.2,-5.5,-7.6]],[9.2,[-2.6,-3.1,-3.4,-3.7,-4,-4.3,-4.6,-4.9,-5.2,-5.6,-6]],[9.6,[-2.7,-3,-3.3,-3.6,-3.9,-4.2,-4.5,-4.8,-5.1,-5.5,-6.1]],
  [10,[-2.5,-2.9,-3.2,-3.5,-3.8,-4.1,-4.4,-4.7,-5,-5.3,-5.7,-6.8,-7.2,-7.7,-8.7]],[10.4,[-3,-3.3,-3.6,-3.9,-4.2,-4.5,-4.8,-5.1,-5.4,-6.3,-7,-7.4,-8]],[10.8,[-3,-3.3,-3.6,-3.9,-4.2,-4.5,-4.8,-5.1,-5.4,-5.9,-6.5,-6.8]],
  [11.2,[-2.6,-3,-3.3,-3.6,-3.9,-4.2,-4.5,-4.8,-5.1,-5.5,-6.4,-6.9,-8.3]],[11.5,[-0.6,-1.5,-1.9,-2.2,-2.5,-2.8,-3.1,-3.4,-3.7,-4,-4.3,-4.6,-4.9,-5.2,-5.7,-6.7,-8.2]],[11.9,[-1.8,-2.2,-2.5,-2.8,-3.1,-3.4,-3.7,-4,-4.3,-4.6,-4.9,-5.2,-5.6,-6.4]],
  [12.3,[-2.6,-2.9,-3.2,-3.5,-3.8,-4.1,-4.4,-4.7,-5,-5.3,-5.7,-6.9,-7.1]],[12.7,[-2.7,-3,-3.3,-3.6,-3.9,-4.2,-4.5,-4.8,-5.1,-5.4,-5.9,-6.5,-8.1]],[13.1,[-2.9,-3.2,-3.5,-3.8,-4.1,-4.4,-4.7,-5,-5.3,-5.8,-6.4]],[13.5,[-3.2,-3.5,-3.8,-4.1,-4.4,-4.7,-5,-5.3,-5.7,-6.1,-8.8]],
  [13.9,[-3.2,-3.5,-3.8,-4.1,-4.4,-4.7,-5,-5.3,-5.6]],[14.3,[-3.4,-3.7,-4,-4.3,-4.6,-4.9,-5.2,-5.5,-5.9,-6.6,-7.2]],[14.7,[-3.6,-3.9,-4.2,-4.5,-4.8,-5.1,-5.4,-5.7]],[15.1,[-3.7,-4,-4.3,-4.6,-4.9,-5.2,-5.5,-5.9,-6.2]],
  [15.5,[-2.8,-3.3,-3.7,-4,-4.3,-4.6,-4.9,-5.2,-5.5,-5.8]],[15.9,[-1.3,-3.4,-3.7,-4,-4.3,-4.6,-4.9,-5.2,-5.5,-6.2,-6.6,-7.1]],[16.3,[-3.3,-3.6,-3.9,-4.2,-4.5,-4.8,-5.1,-5.4,-6.1,-6.9,-7.4,-7.9]],[16.7,[-2.6,-3.2,-3.5,-3.8,-4.1,-4.4,-4.7,-5,-5.3,-6.3,-7,-7.6]],
  [17,[-0.9,-1.1,-2.7,-3.1,-3.4,-3.7,-4,-4.3,-4.6,-4.9,-5.3,-5.9,-6.6]],[17.4,[-2.9,-3.2,-3.5,-3.8,-4.1,-4.4,-4.7,-5,-5.4,-5.8,-6.2,-7]],[17.8,[-1.7,-2.7,-3,-3.3,-3.6,-3.9,-4.2,-4.5,-4.8,-5.2,-5.7]],[18.2,[-2.5,-2.8,-3.1,-3.4,-3.7,-4,-4.3,-4.6,-4.9,-5.2,-5.7,-7]],
  [18.6,[-2.4,-2.7,-3,-3.3,-3.6,-3.9,-4.2,-4.5,-4.8,-5.2,-6.4]],[19,[-2.2,-2.5,-2.8,-3.1,-3.4,-3.7,-4,-4.3,-4.6,-5,-5.6,-6.1]],[19.4,[-1.9,-2.3,-2.6,-2.9,-3.2,-3.5,-3.8,-4.1,-4.4,-4.8,-5.4,-6.2,-7,-7.4,-7.9]],[19.8,[-3,-3.3,-3.6,-3.9,-4.2,-4.5,-4.8,-5.5,-6.5,-6.9,-7.3]],
  [20.2,[-3.1,-3.4,-3.7,-4,-4.3,-4.6,-4.9,-5.3,-5.7,-6.6]],[20.6,[-3.1,-3.4,-3.7,-4,-4.3,-4.6,-5,-5.3,-5.6,-6.5]],[21,[-3.5,-3.8,-4.1,-4.5,-4.8,-5.1,-5.4,-5.8,-6.9,-7]],[21.4,[-4.1,-4.4,-4.7,-5,-5.4,-5.8,-6.1,-6.7]],[21.8,[-4.2,-4.6,-5,-5.6,-6.1,-6.8,-8.5]],
  [22.3,[-6,-6.3,-6.7,-7.2,-8.3]],[22.7,[-6.1,-6.5,-6.9,-7.2]],[23.1,[-6.2,-6.5,-6.8,-7]],[23.5,[-6.2,-6.5,-6.8,-7.3]],[23.9,[-6.2,-6.4,-6.8,-7.7]],[24.3,[-6,-6.3,-6.6]],[24.7,[-6,-7.4,-7.8]]
]
const panel9 = [
  [0,[-3,-3.3,-3.6,-3.9,-4.3,-4.6,-4.9]],[0.3,[-2.6,-2.9,-3.2,-3.5,-3.8,-4.1,-4.4,-4.7,-5,-5.3]],[0.6,[-1.4,-1.7,-2,-2.4,-2.7,-3,-3.3,-3.6,-3.9,-4.2,-4.5,-4.8,-5.1]],[0.9,[-1.9,-2.2,-2.5,-2.8,-3.1,-3.4,-3.7,-4,-4.3,-4.6,-4.9,-5.2,-5.6,-7.9]],
  [1.2,[-2.8,-3.1,-3.4,-3.7,-4,-4.3,-4.6,-4.9,-5.2,-5.5,-5.9]],[1.6,[-3,-3.3,-3.6,-3.9,-4.2,-4.5,-4.8,-5.1,-5.5,-6.2]],[2,[-3.3,-3.6,-3.9,-4.2,-4.5,-4.8,-5.1,-5.5,-6.9]],[2.4,[-3.5,-3.8,-4.1,-4.4,-4.7,-5,-5.3,-5.7,-6.2]],
  [2.8,[-3,-3.4,-3.7,-4,-4.3,-4.6,-4.9,-5.3,-5.8,-6.4,-6.9]],[3.2,[-3.6,-3.9,-4.2,-4.5,-4.8,-5.2,-5.6,-6.2,-6.6]],[3.6,[-3.5,-3.8,-4.1,-4.4,-4.7,-5.1,-5.6,-6]],[4,[-2.3,-2.6,-3.4,-3.7,-4,-4.3,-4.6,-4.9,-5.3,-6.6,-7,-7.4,-7.7,-8]],[4.4,[-3.8,-4.2,-4.6,-5,-5.6,-6.8,-7.3]],[4.8,[-5.3,-6.8]],
  [5.1,[-7.1]],[5.7,[-6.1,-7.4]],[6,[-5.5,-6.5,-7.1,-7.6]],[6.3,[-5.7,-6.2,-6.7,-7.1,-7.9]],[6.6,[-3.9,-4.2,-4.7,-5.2,-5.7,-6.1,-6.5,-6.9,-7.3]],[6.9,[-3.9,-4.2,-4.5,-4.8,-5.1,-5.5,-5.9,-6.4,-6.8,-7.2]],
  [7.3,[-3.1,-3.4,-3.7,-4,-4.3,-4.6,-4.9,-5.2,-5.6,-6,-6.6,-7]],[7.7,[-3.2,-3.5,-3.8,-4.1,-4.4,-4.7,-5,-5.3,-5.8,-6.3,-6.8]],[8.1,[-3.2,-3.5,-3.8,-4.1,-4.4,-4.7,-5,-5.3,-5.6,-6,-6.5]],[8.5,[-2.2,-3.1,-3.4,-3.7,-4,-4.3,-4.6,-4.9,-5.2,-5.6,-6.2]],
  [8.9,[-3,-3.3,-3.6,-3.9,-4.2,-4.5,-4.8,-5.1,-5.5,-5.9,-6.7]],[9.3,[-2.4,-3,-3.3,-3.6,-3.9,-4.2,-4.5,-4.8,-5.1,-5.4,-5.9,-6.5]],[9.7,[-3,-3.3,-3.6,-3.9,-4.2,-4.5,-4.8,-5.1,-5.4,-5.8,-6.3,-7.1]],[10,[-3.2,-3.5,-3.8,-4.1,-4.4,-4.7,-5,-5.3,-5.7,-6.2,-6.7,-7.3,-8.4,-8.6]],
  [10.4,[-3.1,-3.4,-3.7,-4,-4.3,-4.6,-4.9,-5.2,-5.6,-6,-6.4,-6.8]],[10.8,[-2.8,-3.1,-3.4,-3.7,-4,-4.3,-4.6,-4.9,-5.2,-5.5,-5.9,-6.3]],[11.2,[-2.3,-2.7,-3,-3.3,-3.6,-3.9,-4.2,-4.5,-4.8,-5.1,-5.5,-5.9]],[11.5,[-0.4,-0.7,-1.4,-1.9,-2.2,-2.5,-2.8,-3.1,-3.4,-3.7,-4,-4.3,-4.6,-4.9,-5.2,-5.6]],
  [11.9,[-2.2,-2.5,-2.8,-3.1,-3.4,-3.7,-4,-4.3,-4.6,-4.9,-5.2,-5.5,-6]],[12.2,[-2.5,-2.8,-3.1,-3.4,-3.7,-4,-4.3,-4.6,-4.9,-5.2,-5.6,-7.4]],[12.6,[-2.8,-3.1,-3.4,-3.7,-4,-4.3,-4.6,-4.9,-5.2,-5.5,-5.9,-6.2]],[13,[-2.8,-3.1,-3.4,-3.7,-4,-4.3,-4.6,-4.9,-5.2,-5.6,-6]],
  [13.4,[-2.9,-3.2,-3.5,-3.8,-4.1,-4.4,-4.7,-5,-5.3,-5.7]],[13.8,[-3,-3.3,-3.6,-3.9,-4.2,-4.5,-4.8,-5.1,-5.4,-5.7]],[14.2,[-3.2,-3.5,-3.8,-4.1,-4.4,-4.7,-5,-5.3,-5.6]],[14.6,[-3.5,-3.8,-4.1,-4.4,-4.7,-5,-5.3,-5.6]],[15,[-2.6,-3.5,-3.8,-4.1,-4.4,-4.7,-5,-5.3,-5.6]],
  [15.4,[-3.7,-4,-4.3,-4.6,-4.9,-5.2,-5.5,-7]],[15.8,[-3.6,-3.9,-4.2,-4.5,-4.8,-5.1,-5.4,-6.2]],[16.2,[-3.9,-4.2,-4.5,-4.8,-5.1,-5.4,-6.1]],[16.6,[-3.3,-3.7,-4,-4.3,-4.6,-4.9,-5.2,-5.5,-6.8]],[17,[-1.8,-2.2,-3,-3.3,-3.6,-3.9,-4.2,-4.5,-4.8,-5.1,-5.4,-6.2,-6.8]],
  [17.4,[-2.4,-2.8,-3.1,-3.4,-3.7,-4,-4.3,-4.6,-4.9,-5.2,-5.7]],[17.8,[-2.8,-3.1,-3.4,-3.7,-4,-4.3,-4.6,-4.9,-5.2,-5.5,-6.6]],[18.2,[-2,-3.1,-3.4,-3.7,-4,-4.3,-4.6,-4.9,-5.3,-5.9,-6.5]],[18.6,[-2.5,-2.9,-3.2,-3.5,-3.8,-4.1,-4.4,-4.7,-5,-5.4,-5.7]],
  [19,[-1.5,-1.8,-2.3,-2.6,-2.9,-3.2,-3.5,-3.8,-4.1,-4.4,-4.7,-5,-5.5]],[19.4,[-1.5,-1.7,-2,-2.3,-2.6,-2.9,-3.2,-3.5,-3.8,-4.1,-4.4,-4.7,-5.1,-5.6]],[19.8,[-3.1,-3.4,-3.7,-4,-4.3,-4.6,-5,-5.6,-6.9]],[20.2,[-3,-3.3,-3.6,-3.9,-4.2,-4.5,-4.9,-5.4,-6.2,-7.2]],
  [20.6,[-3,-3.3,-3.6,-3.9,-4.2,-4.5,-4.9,-5.4,-6,-6.4,-7,-7.3]],[21,[-3.2,-3.5,-3.8,-4.1,-4.4,-4.8,-5.2,-5.7,-6.2,-6.6,-7]],[21.3,[-3.6,-4,-4.4,-4.7,-5,-5.3,-5.7,-6.1,-6.5,-7.1,-7.6]],[21.7,[-5.1,-5.5,-5.9,-6.5,-7.1,-7.7,-8.6]],[22.1,[-6.2,-6.6,-7.1]],
  [22.5,[-6.4,-6.8,-7]],[22.9,[-6.5,-6.8,-7.1]],[23.3,[-6.3,-6.7,-7]],[23.7,[-6.1,-6.5,-6.9]],[24.1,[-6.3,-6.6,-6.9]],[24.5,[-5.9,-7.2]],[25.2,[-6.8,-7.6]]
]
const panels = [panel1, panel2, panel3, panel4, panel5, panel6, panel7, panel8, panel9]

// saturated part of each cloud, where single dots can't be told apart: [day, upper, lower]
const core1 = [[0.2,-3.2,-5],[0.6,-2.9,-4.7],[1.2,-3.7,-4.4],[1.5,-4.7,-5.5],[2,-3.7,-4.2],[2.7,-3.7,-4.2],[3,-4.8,-5.4],[2.2,-4.9,-5.4],[8.5,-3.6,-4.6],[9,-3.8,-4.8],[9.5,-3.6,-5],[10,-3.4,-5],[10.8,-3.2,-5],[11.4,-3,-5.1],[12,-3.1,-5.1],[12.5,-3.3,-5],[13,-3.8,-5],[13.4,-4.1,-5],[14,-4.2,-5],[14.8,-4.2,-5.2],[15.5,-4.1,-5.3],[16,-4.2,-5.3],[16.6,-4,-5.3],[17.2,-3.8,-5.1],[17.8,-3.2,-5],[18.4,-3,-5],[19,-2.7,-4.8],[19.5,-2.7,-4.6],[20,-3.2,-4.5],[20.6,-3.3,-4.2]]
const core2 = [[0.5,-2.6,-5.3],[1.5,-3.4,-5.2],[2.5,-3.4,-5.3],[3.5,-3.8,-5],[8,-3.5,-5],[9,-3.3,-5.2],[10,-3,-5.2],[11,-2.7,-5.3],[12,-2.4,-5.4],[13,-3.2,-5.5],[14,-3.5,-5.5],[15,-3.7,-5.7],[16,-3.7,-5.8],[17,-3.3,-5.6],[18,-2.7,-5.2],[19,-2.4,-5],[20,-3,-4.8],[21,-3.4,-4.3]]
const core3 = [[0.5,-2.6,-5.2],[1.5,-3.3,-5.4],[2.5,-3.4,-5.5],[3.5,-3.7,-5.2],[8,-3.1,-5.2],[9,-3.1,-5.3],[10,-3,-5.2],[11,-2.7,-5.4],[12,-2.5,-5.4],[13,-3,-5.5],[14,-3.4,-5.5],[15,-3.6,-5.6],[16,-3.7,-5.5],[17,-3.2,-5.2],[18,-2.7,-4.9],[19,-2.5,-5],[20,-2.6,-4.6],[21,-3.2,-4.6]]
const core4 = [[0.5,-2.6,-5.4],[1.5,-3.4,-5.2],[2.5,-3.4,-5.2],[3.5,-3.6,-4.9],[8,-3.2,-5.2],[9,-3,-5.3],[10,-3.2,-5.2],[11,-2.8,-5.2],[12,-2.4,-5.4],[13,-2.9,-5.5],[14,-3.6,-5.5],[15,-3.5,-5.4],[16,-3.7,-5.3],[17,-3,-5.2],[18,-2.7,-5],[19,-2.4,-5],[20,-2.8,-4.5],[21,-3.6,-4.5]]
const core5 = [[0.5,-2.5,-5.4],[1.5,-3.4,-5.5],[2.5,-3.3,-5.5],[3.5,-3.5,-5.5],[4.3,-3.8,-5.4],[8,-3.3,-5.5],[9,-3.2,-5.5],[10,-3,-5.5],[11,-2.8,-5.4],[12,-2.3,-5.5],[13,-3,-5.5],[14,-3.4,-5.6],[15,-3.5,-5.6],[16,-3.8,-5.4],[17,-3.3,-5.4],[18,-3,-5.2],[19,-2.6,-5.2],[20,-2.4,-5.4],[21,-3.3,-5.2]]
const core6 = [[0.5,-2.5,-5.5],[1.5,-3.3,-5.3],[2.5,-3.4,-5.2],[3.5,-3.7,-5.3],[8,-3.1,-5.7],[9,-3.2,-5.6],[10,-3,-5.4],[11,-3,-5.5],[12,-2.3,-5.5],[13,-3.1,-5.6],[14,-3.4,-5.6],[15,-3.6,-5.8],[16,-3.7,-5.7],[17,-3.1,-5.6],[18,-2.7,-5.3],[19,-2.4,-5.2],[20,-2.6,-5],[21,-3.2,-5]]
const core7 = [[0.5,-2.4,-5.4],[1.5,-3.4,-5.5],[2.5,-3.4,-5.5],[3.5,-3.4,-5.4],[8,-3.1,-5.6],[9,-3.1,-5.5],[10,-3.1,-5.4],[11,-2.8,-5.4],[12,-2.1,-5.6],[13,-3,-5.5],[14,-3.4,-5.7],[15,-3.6,-5.7],[16,-3.5,-5.4],[17,-3.1,-5.3],[18,-2.6,-5.2],[19,-2.4,-5.2],[20,-3,-5],[21,-3.6,-5]]
const core8 = [[0.5,-2,-5.5],[1.5,-3.3,-5.6],[2.5,-3.4,-5.6],[3.5,-3.5,-5.5],[7.3,-4,-5.6],[8,-3.2,-5.7],[9,-3,-5.7],[10,-2.9,-5.5],[11,-3.1,-5.5],[12,-2,-5.6],[13,-3.1,-5.8],[14,-3.3,-5.8],[15,-3.7,-5.9],[16,-3.5,-5.7],[17,-3.2,-5.5],[18,-2.8,-5.4],[19,-2.5,-5.4],[20,-3.1,-5.3],[21,-3.3,-5.2],[21.8,-4.3,-5.4]]
const core9 = [[0.5,-2,-5.1],[1.5,-3,-5.5],[2.5,-3.4,-5.5],[3.5,-3.6,-5.2],[4,-3.5,-4.9],[7.5,-3.3,-5.5],[8,-3.2,-5.5],[9,-3.1,-5.5],[10,-3.2,-5.3],[11,-2.8,-5.3],[12,-2.3,-5.4],[13,-2.9,-5.4],[14,-3.1,-5.5],[15,-3.6,-5.4],[16,-3.9,-5.3],[17,-3,-5.2],[18,-3,-5],[19,-2.4,-5],[20,-3,-4.8],[21,-3.2,-5]]
const cores = [core1, core2, core3, core4, core5, core6, core7, core8, core9]

const chart = echarts.init(document.getElementById('chart'), null, { renderer: 'canvas' })

const lefts = [62, 307, 552]
const tops = [31, 228, 424]
const textColor = '#262626'
const dotColor = '#0072BD'
const gridColor = '#e1e1e1'
const fontFamily = '"Liberation Sans", Arial, sans-serif'

// one span of the saturated core, half a day either side of its day
const renderCore = (params, api) => {
  const a = api.coord([api.value(0) - 0.53, api.value(1)])
  const b = api.coord([api.value(0) + 0.53, api.value(2)])
  return {
    type: 'rect',
    shape: { x: a[0], y: a[1], width: b[0] - a[0], height: b[1] - a[1] },
    style: { fill: dotColor }
  }
}

const grids = [], xAxes = [], yAxes = [], series = [], titleList = []
panels.forEach((columns, i) => {
  const left = lefts[i % 3]
  const top = tops[Math.floor(i / 3)]
  grids.push({ left, top, width: 185, height: 132, show: true, borderColor: textColor, borderWidth: 1.5, backgroundColor: '#fff' })
  titleList.push({
    text: titles[i], left: left + 91.5, top: top - 21.5, textAlign: 'center', padding: 0,
    textStyle: { fontFamily, fontSize: 16.5, fontWeight: 'bold', color: '#000' }
  })
  xAxes.push({
    gridIndex: i, type: 'value', min: 0, max: 31, interval: 10,
    name: 'day', nameLocation: 'middle', nameGap: 23,
    nameTextStyle: { fontFamily, fontSize: 16, color: textColor },
    axisLine: { show: false },
    axisTick: { show: true, inside: true, length: 2, lineStyle: { color: textColor } },
    axisLabel: { fontFamily, fontSize: 15, color: textColor, margin: 6, formatter: v => (xTicks.includes(v) ? String(v) : '') },
    splitLine: { show: true, showMinLine: false, showMaxLine: false, lineStyle: { color: gridColor, width: 1.6 } }
  })
  yAxes.push({
    gridIndex: i, type: 'value', min: -10, max: 0, interval: 5,
    name: 'log(rate)', nameLocation: 'middle', nameGap: 34,
    nameTextStyle: { fontFamily, fontSize: 16, color: textColor },
    axisLine: { show: false },
    axisTick: { show: true, inside: true, length: 2, lineStyle: { color: textColor } },
    axisLabel: { fontFamily, fontSize: 15, color: textColor, margin: 5 },
    splitLine: { show: true, showMinLine: false, showMaxLine: false, lineStyle: { color: gridColor, width: 1.6 } }
  })
  const data = []
  columns.forEach(([day, rates]) => rates.forEach(r => data.push([day, r])))
  series.push({
    type: 'custom', xAxisIndex: i, yAxisIndex: i, data: cores[i],
    renderItem: renderCore, encode: { x: 0, y: [1, 2] }, silent: true, animation: false, clip: true
  })
  series.push({
    type: 'scatter', xAxisIndex: i, yAxisIndex: i, data,
    symbol: 'circle', symbolSize: 3.4, itemStyle: { color: dotColor, opacity: 1 },
    silent: true, animation: false, clip: false
  })
})

chart.setOption({
  animation: false,
  backgroundColor: '#fff',
  title: titleList,
  grid: grids,
  xAxis: xAxes,
  yAxis: yAxes,
  series
})
</script>
</body>
</html>
